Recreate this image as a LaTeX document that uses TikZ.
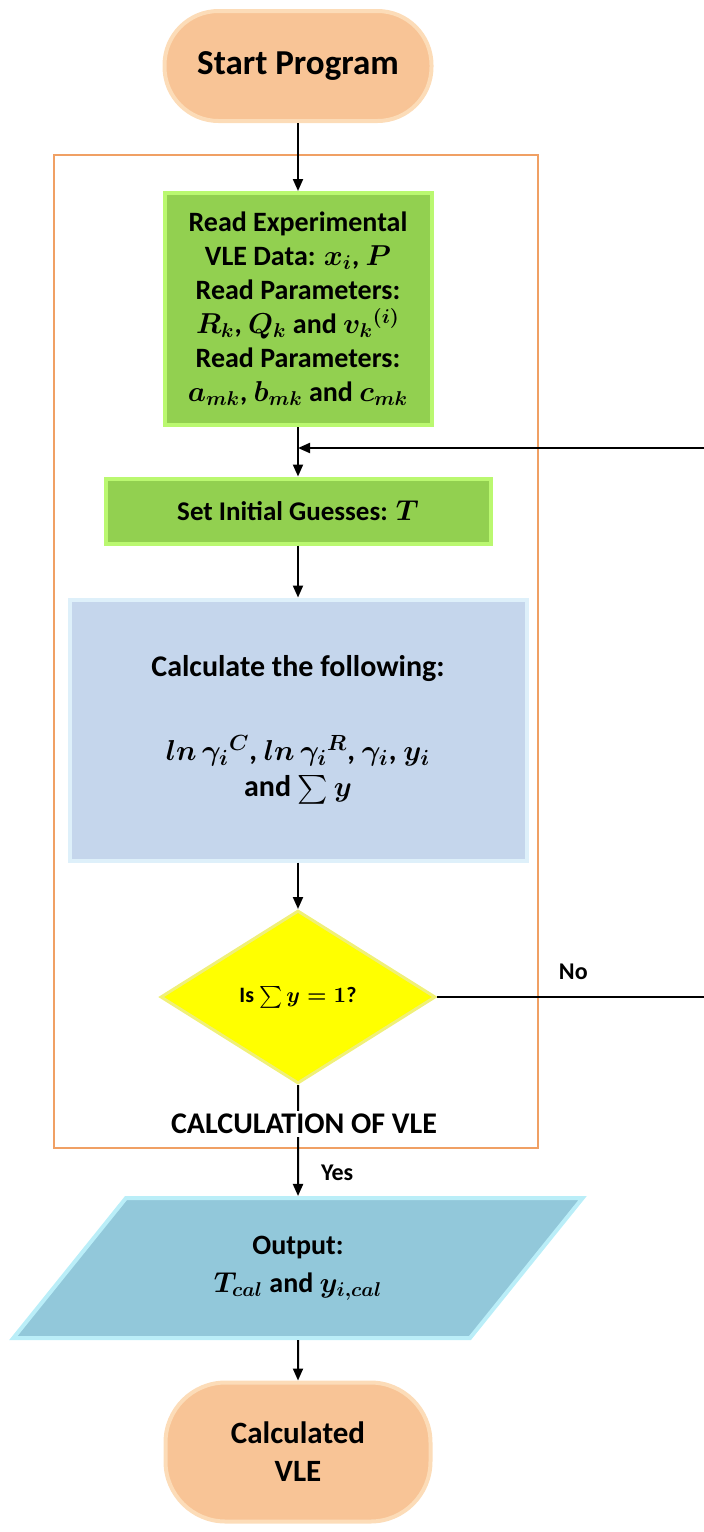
\documentclass[tikz,border=0pt]{standalone}
\usepackage{fontspec}
\setmainfont{Carlito}
\usepackage{amsmath}
\usepackage{xcolor}
\usetikzlibrary{shapes.geometric,arrows.meta}
\definecolor{term_fill}{RGB}{248,196,150}
\definecolor{term_edge}{RGB}{252,220,184}
\definecolor{read_fill}{RGB}{146,208,80}
\definecolor{read_edge}{RGB}{186,248,112}
\definecolor{calc_fill}{RGB}{197,214,236}
\definecolor{calc_edge}{RGB}{222,240,250}
\definecolor{test_fill}{RGB}{255,255,0}
\definecolor{test_edge}{RGB}{240,240,120}
\definecolor{out_fill}{RGB}{146,200,218}
\definecolor{out_edge}{RGB}{186,238,248}
\definecolor{frame_line}{RGB}{240,160,100}

\begin{document}
\begin{tikzpicture}[x=0.5pt,y=-0.5pt,
    every node/.style={font=\bfseries\boldmath\fontsize{14}{17}\selectfont, align=center},
    terminal/.style={rectangle, rounded corners=27pt, fill=term_fill, draw=term_edge, line width=2pt},
    readbox/.style={rectangle, fill=read_fill, draw=read_edge, line width=2pt},
    calcbox/.style={rectangle, fill=calc_fill, draw=calc_edge, line width=2pt},
    testbox/.style={diamond, fill=test_fill, draw=test_edge, line width=1.5pt, inner sep=0pt},
    outbox/.style={trapezium, trapezium left angle=52.6, trapezium right angle=127.4,
        trapezium stretches=true, fill=out_fill, draw=out_edge, line width=2pt},
    small/.style={font=\bfseries\boldmath\fontsize{12}{14}\selectfont},
    flow/.style={-{Triangle[width=5pt,length=6pt]}, line width=1pt}
  ]
  \useasboundingbox (0,0) rectangle (704,1532);

  % frame round the VLE loop
  \draw[frame_line, line width=1pt] (54,155) rectangle (538,1148);

  \node[terminal, minimum width=133.5pt, minimum height=55pt,
        font=\bfseries\fontsize{17.5}{20}\selectfont] (start) at (298,66) {Start Program};
  \node[readbox, minimum width=133.5pt, minimum height=116pt] (read) at (298,309)
    {Read Experimental\\VLE Data: $x_i$, $P$\\Read Parameters:\\$R_k$, $Q_k$ and $v_k{}^{(i)}$\\Read Parameters:\\$a_{mk}$, $b_{mk}$ and $c_{mk}$};
  \node[readbox, minimum width=192.5pt, minimum height=32.5pt,
        font=\bfseries\boldmath\fontsize{13.5}{16}\selectfont] (guess) at (298,511)
    {Set Initial Guesses: $T$};
  \node[calcbox, minimum width=228.5pt, minimum height=130.5pt,
        font=\bfseries\boldmath\fontsize{15}{18}\selectfont] (calc) at (298,730)
    {Calculate the following:\\[24pt]$ln\,\gamma_i{}^{C}$, $ln\,\gamma_i{}^{R}$, $\gamma_i$, $y_i$\\and $\sum y$};
  \node[testbox, minimum width=137.5pt, minimum height=86.5pt,
        font=\bfseries\boldmath\fontsize{11}{13}\selectfont] (test) at (298,997)
    {Is $\sum y = 1$?};
  \node[outbox, minimum width=285pt, minimum height=70pt] (out) at (298,1268)
    {Output:\\[2pt]$T_{cal}$ and $y_{i,cal}$};
  \node[terminal, rounded corners=30pt, minimum width=132.5pt, minimum height=69.5pt,
        font=\bfseries\fontsize{15.5}{19}\selectfont] (finish) at (298,1452) {Calculated\\VLE};

  \coordinate (join) at (298,448);
  \coordinate (loopEnd) at (740,997);

  \draw[flow] (start) -- (read);
  \draw[flow] (read) -- (guess);
  \draw[flow] (guess) -- (calc);
  \draw[flow] (calc) -- (test);
  \draw[flow] (test) -- (out);
  \draw[flow] (out) -- (finish);
  \draw[flow] (test.east) -- node[pos=0.45, above=5pt, small] (noLbl) {No} (loopEnd) |- (join);

  \node[fill=white, inner sep=1.5pt, font=\bfseries\fontsize{15}{17}\selectfont] (calcLbl) at (304,1124) {CALCULATION OF VLE};
  \node[small, anchor=west] (yesLbl) at (314,1173) {Yes};
\end{tikzpicture}
\end{document}
